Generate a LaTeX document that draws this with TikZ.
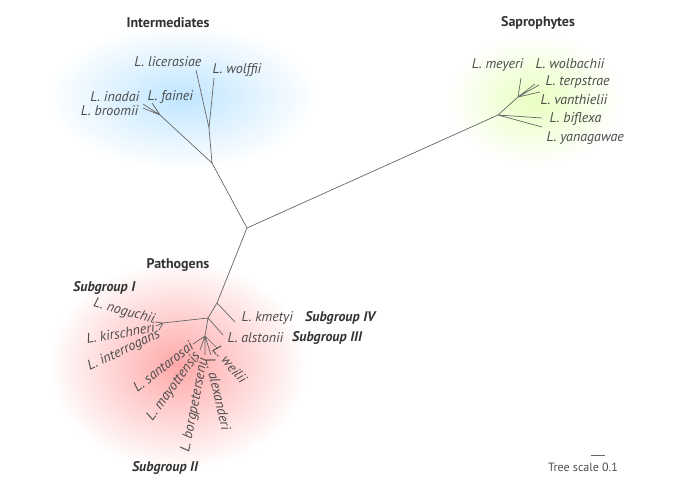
\documentclass[tikz,border=0pt]{standalone}
\usepackage{fontspec}
\setmainfont{PT Sans}
\usetikzlibrary{positioning}
\tikzset{
  br/.style={draw=black!60,line width=0.7pt},
  sp/.style={font=\fontsize{14}{15}\selectfont\itshape,text=black!70,inner sep=0.5pt},
  grp/.style={font=\fontsize{14}{15}\selectfont\bfseries,text=black!80,inner sep=1pt},
  sub/.style={font=\fontsize{14}{15}\selectfont\bfseries\itshape,text=black!80,inner sep=1pt}
}
\begin{document}
\begin{tikzpicture}[x=1pt,y=-1pt]
    \useasboundingbox (0,0) rectangle (700,500);
    % clouds
    \shade[inner color=blue!40!cyan!25!white, outer color=white] (182,97) ellipse (135 and 72);
    \shade[inner color=green!35!yellow!25!white, outer color=white] (535,100) ellipse (88 and 66);
    \shade[inner color=red!34, outer color=white] (178,365) ellipse (130 and 105);
    % inner points
    \coordinate (c) at (247,228);
    \coordinate (i0) at (212,163);
    \coordinate (i1) at (160,115);
    \coordinate (i2) at (209,128);
    \coordinate (s0) at (498,115);
    \coordinate (s1) at (518,97);
    \coordinate (p0) at (217,303);
    \coordinate (p1) at (208,318);
    \coordinate (p2) at (163,323);
    \coordinate (p3) at (205,336);
    % tips
    \coordinate (inadai) at (143,104);
    \coordinate (broomii) at (143,108);
    \coordinate (fainei) at (152,103);
    \coordinate (licerasiae) at (196,70);
    \coordinate (wolffii) at (214,78);
    \coordinate (meyeri) at (521,78);
    \coordinate (wolbachii) at (535,84);
    \coordinate (terpstrae) at (539,85);
    \coordinate (vanthielii) at (540,92);
    \coordinate (biflexa) at (542,118);
    \coordinate (yanagawae) at (542,127);
    \coordinate (kmetyi) at (235,322);
    \coordinate (alstonii) at (223,335);
    \coordinate (noguchii) at (155,322);
    \coordinate (kirschneri) at (156,326);
    \coordinate (interrogans) at (159,330);
    \coordinate (santarosai) at (193,344);
    \coordinate (mayottensis) at (200,350);
    \coordinate (borgpetersenii) at (205,355);
    \coordinate (alexanderi) at (211,355);
    \coordinate (weilii) at (217,348);
    % branches
    \draw[br] (c) -- (s0) (c) -- (i0) (c) -- (p0) -- (p1);
    \draw[br] (i0) -- (i1) (i0) -- (i2);
    \draw[br] (i1) -- (inadai) (i1) -- (broomii) (i1) -- (fainei);
    \draw[br] (i2) -- (licerasiae) (i2) -- (wolffii);
    \draw[br] (s0) -- (s1) (s0) -- (biflexa) (s0) -- (yanagawae);
    \draw[br] (s1) -- (meyeri) (s1) -- (wolbachii) (s1) -- (terpstrae) (s1) -- (vanthielii);
    \draw[br] (p0) -- (kmetyi) (p1) -- (alstonii) (p1) -- (p2) (p1) -- (p3);
    \draw[br] (p2) -- (noguchii) (p2) -- (kirschneri) (p2) -- (interrogans);
    \draw[br] (p3) -- (santarosai) (p3) -- (mayottensis) (p3) -- (borgpetersenii)
      (p3) -- (alexanderi) (p3) -- (weilii);
    % labels
    \node[sp,anchor=east] (l-inadai) at (140,97) {L. inadai};
    \node[sp,anchor=east] (l-broomii) at (139,111) {L. broomii};
    \node[sp,anchor=west] (l-fainei) at (147,97) {L. fainei};
    \node[sp,anchor=east] (l-licerasiae) at (202,62) {L. licerasiae};
    \node[sp,anchor=west] (l-wolffii) at (212,70) {L. wolffii};
    \node[sp,anchor=east] (l-meyeri) at (524,65) {L. meyeri};
    \node[sp,anchor=west] (l-wolbachii) at (535,64) {L. wolbachii};
    \node[sp,anchor=west] (l-terpstrae) at (545,82) {L. terpstrae};
    \node[sp,anchor=west] (l-vanthielii) at (540,100) {L. vanthielii};
    \node[sp,anchor=west] (l-biflexa) at (549,119) {L. biflexa};
    \node[sp,anchor=west] (l-yanagawae) at (546,138) {L. yanagawae};
    \node[sp,anchor=west] (l-kmetyi) at (241,318) {L. kmetyi};
    \node[sp,anchor=west] (l-alstonii) at (227,338) {L. alstonii};
    \node[sp,anchor=east,rotate=-15] (l-noguchii) at (155,320) {L. noguchii};
    \node[sp,anchor=east,rotate=10] (l-kirschneri) at (155,327) {L. kirschneri};
    \node[sp,anchor=east,rotate=25] (l-interrogans) at (160,334) {L. interrogans};
    \node[sp,anchor=east,rotate=38] (l-santarosai) at (192,344) {L. santarosai};
    \node[sp,anchor=east,rotate=54] (l-mayottensis) at (198,353) {L. mayottensis};
    \node[sp,anchor=east,rotate=79] (l-borgpetersenii) at (204,358) {L. borgpetersenii};
    \node[sp,anchor=west,rotate=-77] (l-alexanderi) at (210,358) {L. alexanderi};
    \node[sp,anchor=west,rotate=-49] (l-weilii) at (215,347) {L. weilii};
    % groups
    \node[grp] (int) at (168,23) {Intermediates};
    \node[grp] (sap) at (538,23) {Saprophytes};
    \node[grp] (pat) at (178,265) {Pathogens};
    \node[sub,anchor=west] (sgI) at (72,288) {Subgroup I};
    \node[sub,anchor=west] (sgIV) at (304,318) {Subgroup IV};
    \node[sub,anchor=west] (sgIII) at (291,338) {Subgroup III};
    \node[sub] (sgII) at (165,468) {Subgroup II};
    % scale
    \coordinate (sc1) at (591,455);
    \coordinate (sc2) at (605,455);
    \draw[br] (sc1) -- (sc2);
    \node[font=\fontsize{12}{13}\selectfont,text=black!70] (scale) at (583,467) {Tree scale 0.1};
\end{tikzpicture}
\end{document}
